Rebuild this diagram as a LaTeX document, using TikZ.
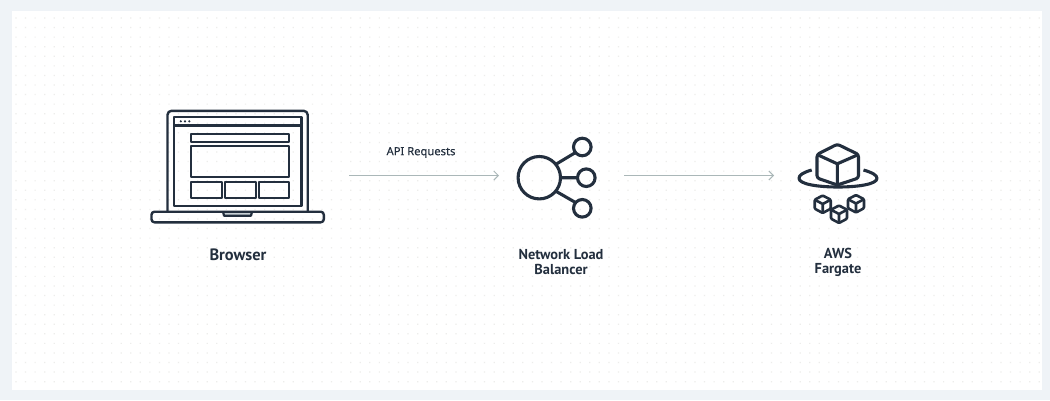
\documentclass[tikz,border=0pt]{standalone}
\usepackage{fontspec}
\setmainfont{PT Sans}
\newfontfamily\apifont[FakeBold=0.25]{Noto Sans}
\usetikzlibrary{arrows.meta}
\definecolor{ink}{HTML}{232F3E}
\definecolor{frame}{HTML}{EFF3F7}
\definecolor{speck}{HTML}{EDEDEB}
\definecolor{wire}{HTML}{AAB7B8}
\definecolor{notch}{HTML}{C9D2D6}
\tikzset{
  x=1pt,y=-1pt,
  icon/.style={draw=ink,line width=2.4pt,line join=round},
  thin icon/.style={draw=ink,line width=2.2pt,line join=round},
  heavy/.style={draw=ink,line width=3.1pt,line join=round},
  label/.style={font=\fontsize{14.4}{15}\selectfont\bfseries,text=ink,align=center,inner sep=0pt},
  big label/.style={font=\fontsize{16.4}{17}\selectfont\bfseries,text=ink,inner sep=0pt},
  small label/.style={font=\apifont\fontsize{11.2}{13}\selectfont,text=ink,inner sep=0pt},
  link/.style={draw=wire,line width=1pt,-{Straight Barb[length=4.5pt,width=9pt,line width=1pt]}},
  smallcube/.pic={
    \draw[draw=ink,line width=2.6pt,line join=round,rounded corners=1pt] (0,-8.5)--(8,-4.3)--(8,4.7)--(0,9)--(-8,4.7)--(-8,-4.3)--cycle;
    \draw[draw=ink,line width=2.6pt,line join=round] (-8,-4.3)--(0,0)--(8,-4.3) (0,0)--(0,9);
  }
}
\begin{document}
\begin{tikzpicture}
\useasboundingbox (0,0) rectangle (1050,400);
\fill[frame] (0,0) rectangle (1050,400);
\fill[white] (12,11) rectangle (1041.5,389.5);
\fill[speck] \foreach \i in {0,...,107} {\foreach \j in {0,...,38} {
  ({16+9.563*\i-0.6},{18+9.57*\j-0.6}) rectangle ++(1.2,1.2)}};
% laptop
\draw[icon,rounded corners=4pt] (167.5,211.7)--(167.5,110.8)--(307.7,110.8)--(307.7,211.7);
\draw[icon] (174,116.8) rectangle (301.3,205.7);
\draw[icon] (174,125.3)--(301.3,125.3);
\fill[ink] (180.8,121.3) circle (1.2) (185,121.3) circle (1.2) (189.3,121.3) circle (1.2);
\draw[thin icon] (191,134) rectangle (289.3,142.3);
\draw[thin icon] (191,146) rectangle (289.3,177);
\draw[thin icon] (191,182.3) rectangle (222.3,197.7);
\draw[thin icon] (224.7,182.3) rectangle (255.7,197.7);
\draw[thin icon] (258.7,182.3) rectangle (289.3,197.7);
\draw[thin icon,fill=notch] (223,211.7)--(224,215.7)--(251,215.7)--(252,211.7);
\draw[icon,rounded corners=3pt] (151.5,211.7)--(151.5,222.3)--(323.8,222.3)--(323.8,211.7)--cycle;
% load balancer
\draw[heavy] (539.3,177.7) circle (21.2);
\draw[heavy] (582.3,147) circle (8.8);
\draw[heavy] (586.3,177.7) circle (8.8);
\draw[heavy] (582.3,208.3) circle (8.8);
\draw[heavy] (555.5,164.5)--(575.5,152.5) (560.3,177.7)--(577.5,177.7) (555.5,191)--(575.5,202.5);
% fargate
\draw[heavy,rounded corners=2.5pt]
  (837.3,144.2)--(858.5,154.5)--(858.5,178)--(837.3,185)--(817,178)--(817,154.5)--cycle;
\draw[heavy] (817,154.5)--(837.3,163.8)--(858.5,154.5) (837.3,163.8)--(837.3,185);
\draw[heavy] (811.7,170) .. controls (803,172.5) and (799,175) .. (799,178.3) .. controls (799,184) and (817,187) .. (838,187) .. controls (859,187) and (877,184) .. (877,178.3) .. controls (877,175) and (872,172.5) .. (863.5,170);
\pic at (822.7,204) {smallcube};
\pic at (839,214) {smallcube};
\pic at (856,203.5) {smallcube};
% labels
\node[big label] (browser) at (238,254.5) {Browser};
\node[label] (nlb) at (561,262) {Network Load\\[0pt]Balancer};
\node[label] (fargate) at (838,262) {AWS\\[0pt]Fargate};
\node[small label] (api) at (421,152.5) {API Requests};
% connectors
\coordinate (a1) at (349,175.5);
\coordinate (a2) at (499,175.5);
\coordinate (b1) at (624,175.5);
\coordinate (b2) at (774,175.5);
\draw[link] (a1)--(a2);
\draw[link] (b1)--(b2);
\end{tikzpicture}
\end{document}
